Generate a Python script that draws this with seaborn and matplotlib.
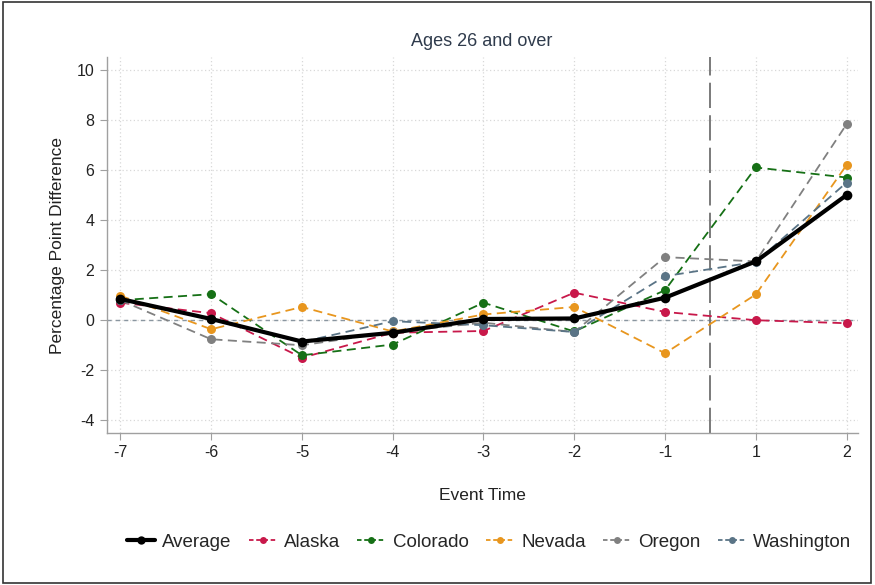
import matplotlib
matplotlib.use('Agg')
import matplotlib.pyplot as plt
import matplotlib.patches as mpatches
from matplotlib.lines import Line2D
import numpy as np
import pandas as pd
import seaborn as sns

# ── Data ──────────────────────────────────────────────────────────────────────
event_time = ['-7', '-6', '-5', '-4', '-3', '-2', '-1', '1', '2']

average    = [0.85, 0.05, -0.85, -0.50, 0.05, 0.07, 0.90, 2.35, 5.00]
alaska     = [0.70, 0.28, -1.50, -0.50, -0.43, 1.10, 0.33, 0.00, -0.12]
colorado   = [0.80, 1.04, -1.40, -0.97, 0.70, -0.45, 1.20, 6.10, 5.70]
nevada     = [0.98, -0.36, 0.53, -0.45, 0.23, 0.53, -1.32, 1.03, 6.20]
oregon     = [0.80, -0.76, -1.00, -0.47, -0.10, -0.47, 2.52, 2.35, 7.83]
washington = [0.80, 0.05, -0.87, -0.04, -0.20, -0.47, 1.76, 2.33, 5.50]

series = {
    'Average': average,
    'Alaska': alaska,
    'Colorado': colorado,
    'Nevada': nevada,
    'Oregon': oregon,
    'Washington': washington,
}
colors = {
    'Average':    '#000000',
    'Alaska':     '#c8184a',
    'Colorado':   '#167016',
    'Nevada':     '#e8961e',
    'Oregon':     '#808080',
    'Washington': '#5a7486',
}

df = pd.concat([
    pd.DataFrame({'pos': np.arange(len(event_time)), 'value': vals, 'series': name})
    for name, vals in series.items()
], ignore_index=True)

# ── Plot ──────────────────────────────────────────────────────────────────────
sns.set_style('white')
plt.rcParams['font.family'] = ['Liberation Sans', 'DejaVu Sans']
plt.rcParams['axes.unicode_minus'] = False

fig = plt.figure(figsize=(8.75, 5.85), dpi=100)
ax = fig.add_axes([0.122, 0.26, 0.858, 0.642])

# states first (dashed), average on top
order = ['Alaska', 'Colorado', 'Nevada', 'Oregon', 'Washington', 'Average']
for name in order:
    sub = df[df['series'] == name]
    is_avg = name == 'Average'
    sns.lineplot(data=sub, x='pos', y='value', ax=ax, color=colors[name],
                 linewidth=3.0 if is_avg else 1.3,
                 linestyle='-' if is_avg else (0, (5, 3)),
                 marker='o', markersize=7 if is_avg else 6.5,
                 markeredgewidth=0, zorder=4 if is_avg else 3,
                 legend=False)

ax.axhline(0, color='#8a96a0', linestyle=(0, (3, 3)), linewidth=1.0, zorder=1)
ax.axvline(6.5, color='#707070', linestyle=(0, (14, 4)), linewidth=1.3, zorder=1)

ax.set_xlim(-0.15, 8.12)
ax.set_ylim(-4.5, 10.5)
ax.set_xticks(np.arange(len(event_time)))
ax.set_xticklabels(event_time)
ax.set_yticks(np.arange(-4, 11, 2))
ax.grid(True, color='#d8d8d8', linestyle=(0, (1, 2)), linewidth=0.9)
ax.set_axisbelow(True)

for side in ['top', 'right']:
    ax.spines[side].set_visible(False)
for side in ['left', 'bottom']:
    ax.spines[side].set_color('#a0a0a0')
    ax.spines[side].set_linewidth(1.0)
ax.tick_params(axis='both', which='both', direction='out', length=5,
               color='#a0a0a0', labelsize=11.5, labelcolor='#222222',
               left=True, bottom=True, pad=4)

ax.set_xlabel('Event Time', fontsize=12.5, color='#222222', labelpad=20)
ax.set_ylabel('Percentage Point Difference', fontsize=12.5, color='#222222', labelpad=8)
ax.set_title('Ages 26 and over', fontsize=13, color='#2f3b4c', pad=8)

handles = []
for name in series:
    is_avg = name == 'Average'
    handles.append(Line2D([0], [0], color=colors[name],
                          linewidth=3.0 if is_avg else 1.3,
                          linestyle='-' if is_avg else (0, (2.5, 1.5)),
                          marker='o', markersize=6 if is_avg else 5,
                          markeredgewidth=0))
fig.legend(handles, list(series), loc='center', bbox_to_anchor=(0.559, 0.073),
           ncol=6, frameon=False, fontsize=13.5, handlelength=1.5,
           handletextpad=0.4, columnspacing=0.9)

fig.patches.append(mpatches.Rectangle((0.003, 0.004), 0.992, 0.992,
                                      transform=fig.transFigure, fill=False,
                                      edgecolor='#333333', linewidth=1.2))

fig.savefig('out.png', dpi=100)
